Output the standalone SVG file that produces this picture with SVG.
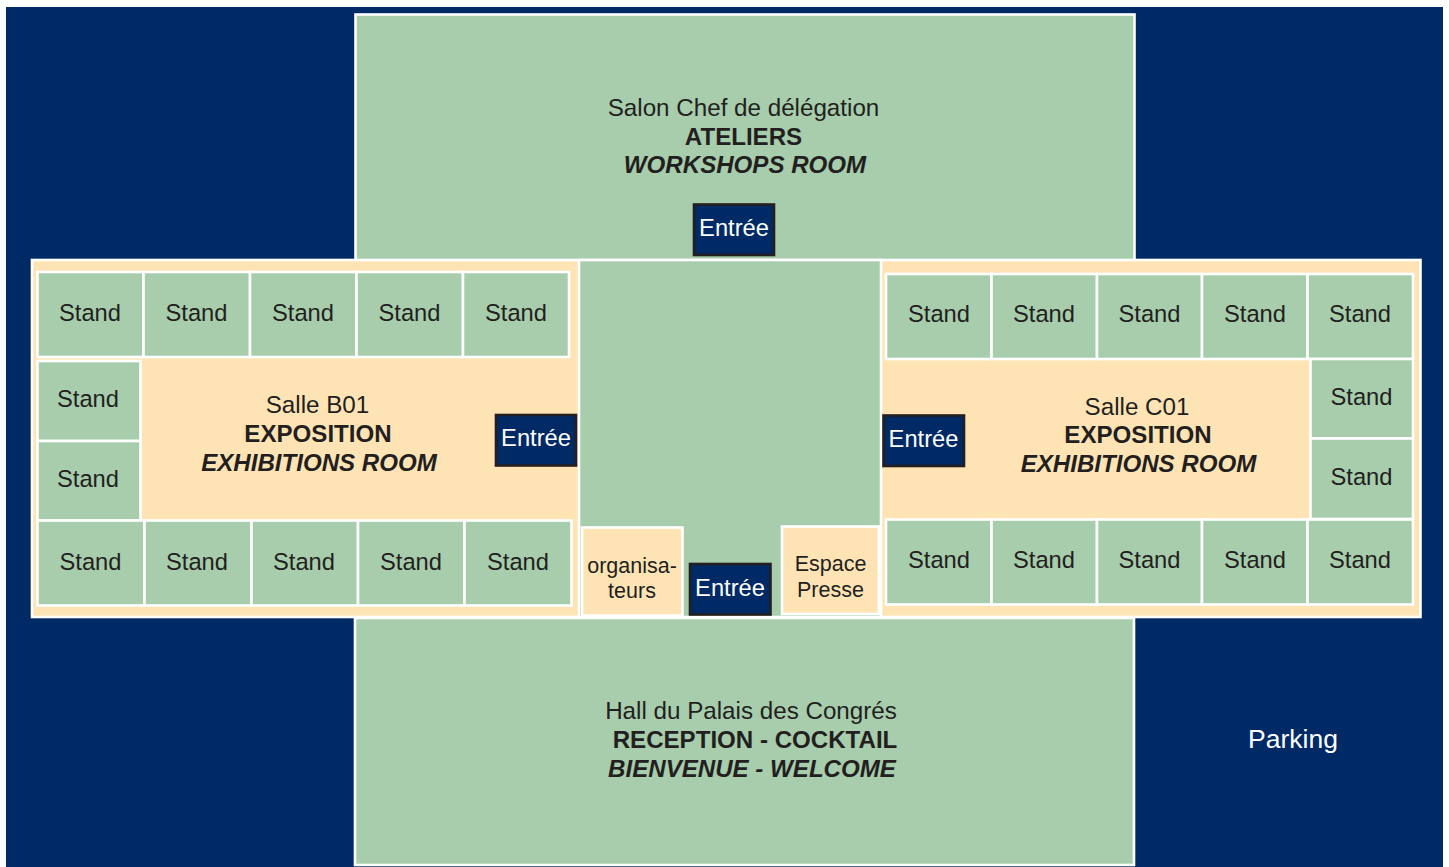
<svg xmlns="http://www.w3.org/2000/svg" width="1449" height="867" viewBox="0 0 1449 867">
<style>
text{font-family:"Liberation Sans",Arial,sans-serif;font-size:23.7px;fill:#231f20;text-anchor:middle}
.z{fill:#a7cdac;stroke:#fff;stroke-width:2.6}
.c{fill:#fee4b5;stroke:#fff;stroke-width:2.6}
.e{fill:#002a66;stroke:#231f20;stroke-width:2.6}
.w{fill:#fff}
.h{font-size:24.2px}
.b{font-weight:bold;font-size:24.1px}
.i{font-weight:bold;font-style:italic;font-size:24.1px}
.s{font-size:21.5px}
</style>
<rect x="0" y="0" width="1449" height="867" fill="#fff"/>
<rect id="parking-bg" x="6" y="7" width="1437" height="860" fill="#002a66"/>
<g id="workshops"><rect class="z" x="355.500" y="14.500" width="779" height="246"/>
<text class="h" x="743.500" y="116">Salon Chef de délégation</text><text class="b" x="743.500" y="145">ATELIERS</text><text class="i" x="745" y="173">WORKSHOPS ROOM</text></g>
<g id="hall"><rect class="z" x="355" y="618" width="779" height="247"/>
<text class="h" x="751" y="719">Hall du Palais des Congrés</text><text class="b" x="755" y="748">RECEPTION - COCKTAIL</text><text class="i" x="752" y="777">BIENVENUE - WELCOME</text></g>
<g id="band"><rect class="c" x="32" y="260" width="1388.500" height="357"/></g>
<g id="center"><rect x="579" y="260" width="302" height="357" fill="#a7cdac" stroke="#fff" stroke-width="2.600"/></g>
<g id="salle-b01"><text class="h" x="317.500" y="413">Salle B01</text><text class="b" x="318" y="442">EXPOSITION</text><text class="i" x="319" y="471">EXHIBITIONS ROOM</text></g>
<g id="salle-c01"><text class="h" x="1137" y="415">Salle C01</text><text class="b" x="1138" y="443">EXPOSITION</text><text class="i" x="1138.500" y="472">EXHIBITIONS ROOM</text></g>
<g id="stands-b01-top">
<rect class="z" x="37.500" y="272" width="106" height="85"/><text x="90" y="321">Stand</text>
<rect class="z" x="143.500" y="272" width="106.500" height="85"/><text x="196.500" y="321">Stand</text>
<rect class="z" x="250" y="272" width="106.500" height="85"/><text x="303" y="321">Stand</text>
<rect class="z" x="356.500" y="272" width="106.500" height="85"/><text x="409.500" y="321">Stand</text>
<rect class="z" x="463" y="272" width="106" height="85"/><text x="516" y="321">Stand</text>
</g>
<g id="stands-b01-side">
<rect class="z" x="37.500" y="361" width="103" height="80"/><text x="88" y="407">Stand</text>
<rect class="z" x="37.500" y="441" width="103" height="79.500"/><text x="88" y="487">Stand</text>
</g>
<g id="stands-b01-bottom">
<rect class="z" x="37.500" y="520.500" width="107" height="85"/><text x="90.500" y="570">Stand</text>
<rect class="z" x="144.500" y="520.500" width="107" height="85"/><text x="197" y="570">Stand</text>
<rect class="z" x="251.500" y="520.500" width="106.500" height="85"/><text x="304" y="570">Stand</text>
<rect class="z" x="358" y="520.500" width="106.500" height="85"/><text x="411" y="570">Stand</text>
<rect class="z" x="464.500" y="520.500" width="107" height="85"/><text x="518" y="570">Stand</text>
</g>
<g id="stands-c01-top">
<rect class="z" x="886" y="274" width="105.500" height="85"/><text x="939" y="322">Stand</text>
<rect class="z" x="991.500" y="274" width="105.500" height="85"/><text x="1044" y="322">Stand</text>
<rect class="z" x="1097" y="274" width="105" height="85"/><text x="1149.500" y="322">Stand</text>
<rect class="z" x="1202" y="274" width="105.500" height="85"/><text x="1255" y="322">Stand</text>
<rect class="z" x="1307.500" y="274" width="105.500" height="85"/><text x="1360" y="322">Stand</text>
</g>
<g id="stands-c01-side">
<rect class="z" x="1310.500" y="359" width="102.500" height="79.500"/><text x="1361.500" y="405">Stand</text>
<rect class="z" x="1310.500" y="438.500" width="102.500" height="80.500"/><text x="1361.500" y="485">Stand</text>
</g>
<g id="stands-c01-bottom">
<rect class="z" x="886" y="519.500" width="105.500" height="85"/><text x="939" y="568">Stand</text>
<rect class="z" x="991.500" y="519.500" width="105.500" height="85"/><text x="1044" y="568">Stand</text>
<rect class="z" x="1097" y="519.500" width="105" height="85"/><text x="1149.500" y="568">Stand</text>
<rect class="z" x="1202" y="519.500" width="105.500" height="85"/><text x="1255" y="568">Stand</text>
<rect class="z" x="1307.500" y="519.500" width="105.500" height="85"/><text x="1360" y="568">Stand</text>
</g>
<g id="organisateurs"><rect class="c" x="582" y="527.500" width="100.500" height="88"/><text class="s" x="632" y="573">organisa-</text><text class="s" x="632" y="598">teurs</text></g>
<g id="espace-presse"><rect class="c" x="782" y="526.500" width="97" height="87.500"/><text class="s" x="830.500" y="571">Espace</text><text class="s" x="830.500" y="597">Presse</text></g>
<g id="entree-top"><rect class="e" x="694" y="204.500" width="80" height="50.500"/><text class="w" x="734" y="236">Entrée</text></g>
<g id="entree-left"><rect class="e" x="496" y="415" width="80" height="50.500"/><text class="w" x="536" y="446">Entrée</text></g>
<g id="entree-right"><rect class="e" x="883.500" y="415.500" width="80.500" height="50.500"/><text class="w" x="923.500" y="447">Entrée</text></g>
<g id="entree-bottom"><rect class="e" x="690" y="564" width="80.500" height="50.500"/><text class="w" x="730" y="596">Entrée</text></g>
<g id="parking"><text class="w" x="1293" y="748" style="font-size:26.500px">Parking</text></g>
</svg>
